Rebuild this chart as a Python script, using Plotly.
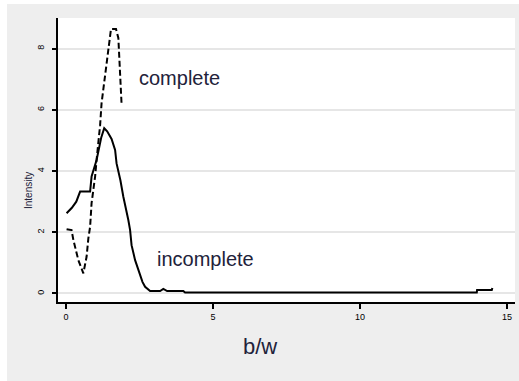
import plotly.graph_objects as go

# incomplete (solid line)
inc_x = [0.02, 0.2, 0.35, 0.48, 0.82, 0.87, 1.04, 1.10, 1.20, 1.30, 1.40, 1.55, 1.67, 1.72, 1.85,
         1.95, 2.05, 2.12, 2.18, 2.23, 2.35, 2.45, 2.52, 2.60, 2.69, 2.86, 3.20, 3.31, 3.44, 3.99,
         4.05, 13.97, 13.98, 14.48, 14.5]
inc_y = [2.62, 2.8, 3.0, 3.33, 3.33, 3.82, 4.36, 4.69, 5.1, 5.40, 5.3, 5.05, 4.69, 4.25, 3.7,
         3.16, 2.75, 2.4, 2.07, 1.58, 1.09, 0.8, 0.55, 0.38, 0.22, 0.08, 0.08, 0.15, 0.08, 0.08,
         0.03, 0.03, 0.11, 0.11, 0.18]

# complete (dashed line)
com_x = [0.02, 0.19, 0.25, 0.42, 0.59, 0.70, 0.76, 0.82, 0.87, 0.93, 0.99, 1.04, 1.10, 1.16,
         1.21, 1.30, 1.38, 1.45, 1.53, 1.70, 1.78, 1.89]
com_y = [2.10, 2.07, 1.75, 1.09, 0.66, 1.2, 1.8, 2.18, 2.95, 3.38, 3.82, 4.36, 4.9, 5.5,
         6.22, 6.9, 7.41, 7.9, 8.64, 8.64, 8.35, 6.19]

x_ticks = [0, 5, 10, 15]
y_ticks = [0, 2, 4, 6, 8]

W, H = 519, 381
L, R, T, B = 58, 4, 18, 79
pw, ph = W - L - R, H - T - B

def px(x):
    return (x - L) / pw

def py(y):
    return (H - B - y) / ph

fig = go.Figure()
fig.add_trace(go.Scatter(x=inc_x, y=inc_y, mode="lines",
                         line=dict(color="black", width=2), showlegend=False))
fig.add_trace(go.Scatter(x=com_x, y=com_y, mode="lines",
                         line=dict(color="black", width=2, dash="6px,3px"), showlegend=False))

fig.add_shape(type="rect", xref="paper", yref="paper", x0=px(7), x1=px(W + 2), y0=py(4), y1=py(H + 2),
              fillcolor="#eeeeee", line=dict(width=0), layer="below")
fig.add_shape(type="rect", xref="paper", yref="paper", x0=0, x1=1, y0=0, y1=1,
              fillcolor="white", line=dict(width=0), layer="below")

txt = "#22223a"
fig.add_annotation(x=2.41, y=7.04, xref="x", yref="y", text="complete", showarrow=False,
                   xanchor="left", yanchor="middle", font=dict(family="Arial", size=20, color=txt))
fig.add_annotation(x=3.03, y=1.13, xref="x", yref="y", text="incomplete", showarrow=False,
                   xanchor="left", yanchor="middle", font=dict(family="Arial", size=20, color=txt))
fig.add_annotation(x=px(260), y=py(346), xref="paper", yref="paper", text="b/w", showarrow=False,
                   xanchor="center", yanchor="middle", font=dict(family="Arial", size=22, color=txt))
fig.add_annotation(x=px(28), y=py(191), xref="paper", yref="paper", text="Intensity", showarrow=False,
                   textangle=-90, xanchor="center", yanchor="middle",
                   font=dict(family="Arial", size=10, color=txt))

fig.update_layout(
    width=W, height=H,
    margin=dict(l=L, r=R, t=T, b=B),
    paper_bgcolor="white", plot_bgcolor="white",
    xaxis=dict(range=[-0.272, 15.27], tickvals=x_ticks, ticks="outside", ticklen=5, tickwidth=2,
               tickcolor="black", showline=True, linecolor="black", linewidth=2, showgrid=False,
               zeroline=False, tickfont=dict(family="Arial", size=9, color="black")),
    yaxis=dict(range=[-0.278, 9.0], tickvals=y_ticks, ticks="outside", ticklen=4, tickwidth=2,
               tickcolor="black", showline=True, linecolor="black", linewidth=2, showgrid=True,
               gridcolor="#e6e6e6", gridwidth=1.5, zeroline=False, tickangle=-90,
               ticklabelstandoff=4, tickfont=dict(family="Arial", size=9, color="black")),
)

fig.write_html("out.html", config={"displayModeBar": False},
               post_script="document.body.style.margin='0';document.body.style.padding='0';")
